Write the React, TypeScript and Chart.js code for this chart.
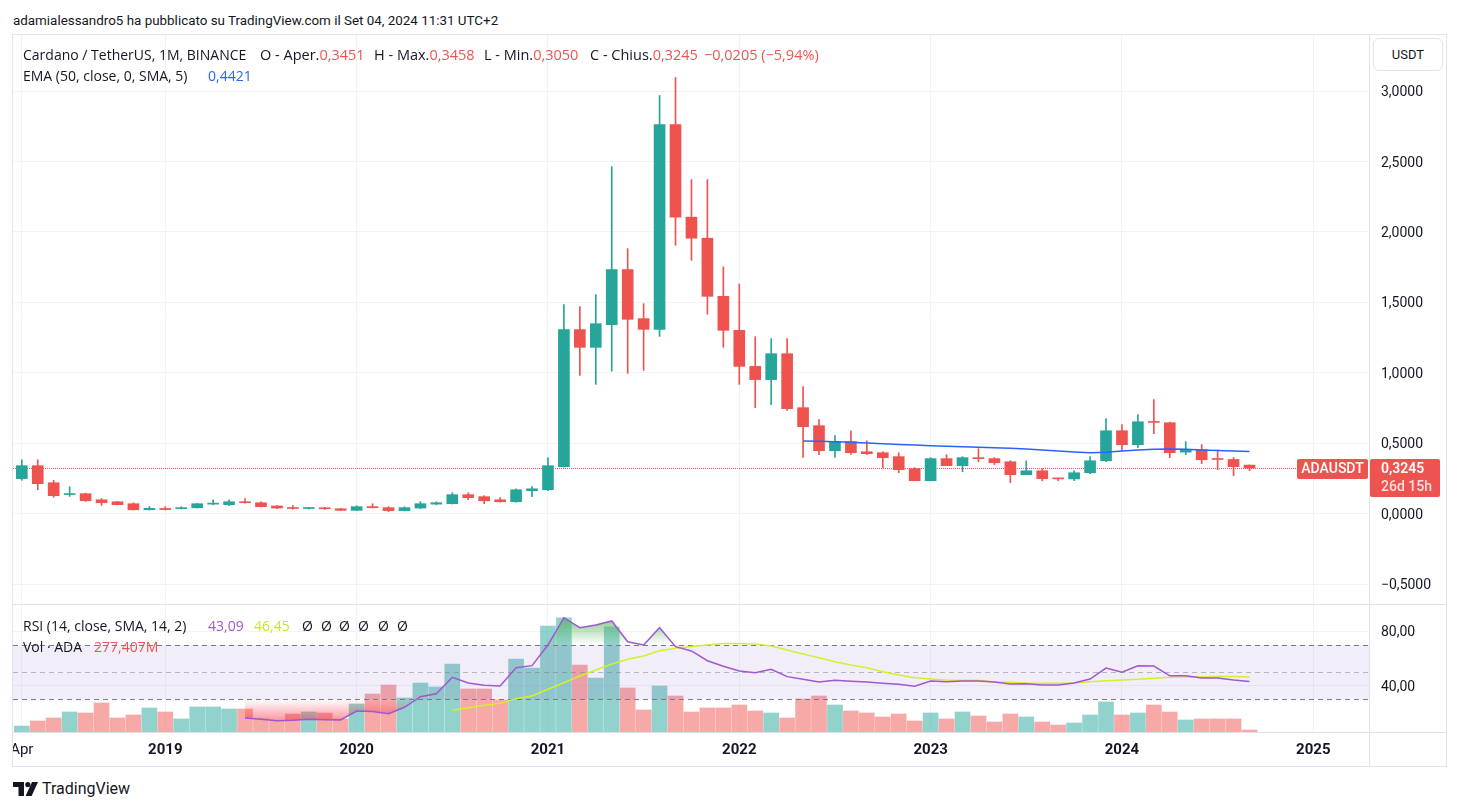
import React, { useEffect, useRef } from 'react';
import { Chart, registerables } from 'chart.js';

Chart.register(...registerables);

// ---------------- data ----------------
const months = [
  '2018-04', '2018-05', '2018-06', '2018-07', '2018-08', '2018-09', '2018-10', '2018-11', '2018-12',
  '2019-01', '2019-02', '2019-03', '2019-04', '2019-05', '2019-06', '2019-07', '2019-08', '2019-09', '2019-10', '2019-11', '2019-12',
  '2020-01', '2020-02', '2020-03', '2020-04', '2020-05', '2020-06', '2020-07', '2020-08', '2020-09', '2020-10', '2020-11', '2020-12',
  '2021-01', '2021-02', '2021-03', '2021-04', '2021-05', '2021-06', '2021-07', '2021-08', '2021-09', '2021-10', '2021-11', '2021-12',
  '2022-01', '2022-02', '2022-03', '2022-04', '2022-05', '2022-06', '2022-07', '2022-08', '2022-09', '2022-10', '2022-11', '2022-12',
  '2023-01', '2023-02', '2023-03', '2023-04', '2023-05', '2023-06', '2023-07', '2023-08', '2023-09', '2023-10', '2023-11', '2023-12',
  '2024-01', '2024-02', '2024-03', '2024-04', '2024-05', '2024-06', '2024-07', '2024-08', '2024-09',
];

const opens = [
  0.249, 0.341, 0.220, 0.136, 0.142, 0.099, 0.085, 0.071, 0.028,
  0.037, 0.036, 0.042, 0.068, 0.064, 0.085, 0.078, 0.055, 0.043, 0.037, 0.042, 0.035,
  0.024, 0.050, 0.043, 0.022, 0.040, 0.068, 0.071, 0.135, 0.121, 0.099, 0.085, 0.163,
  0.170, 0.334, 1.307, 1.181, 1.342, 1.733, 1.385, 1.309, 2.763, 2.105, 1.956, 1.543,
  1.302, 1.046, 0.952, 1.136, 0.753, 0.625, 0.447, 0.512, 0.440, 0.433, 0.405, 0.320,
  0.234, 0.391, 0.341, 0.398, 0.391, 0.369, 0.277, 0.305, 0.251, 0.247, 0.291, 0.376,
  0.589, 0.490, 0.653, 0.646, 0.437, 0.454, 0.390, 0.385, 0.3451,
];
const highs = [
  0.383, 0.383, 0.237, 0.192, 0.146, 0.107, 0.087, 0.078, 0.052,
  0.050, 0.050, 0.074, 0.099, 0.099, 0.107, 0.085, 0.058, 0.057, 0.045, 0.046, 0.039,
  0.057, 0.071, 0.050, 0.050, 0.085, 0.085, 0.149, 0.149, 0.128, 0.114, 0.177, 0.192,
  0.398, 1.484, 1.470, 1.555, 2.464, 1.882, 1.491, 2.969, 3.097, 2.372, 2.372, 1.752,
  1.631, 1.257, 1.243, 1.243, 0.902, 0.668, 0.554, 0.589, 0.518, 0.440, 0.433, 0.327,
  0.398, 0.419, 0.405, 0.462, 0.398, 0.376, 0.376, 0.320, 0.252, 0.305, 0.405, 0.675,
  0.632, 0.703, 0.810, 0.650, 0.512, 0.490, 0.452, 0.398, 0.3458,
];
const lows = [
  0.237, 0.170, 0.116, 0.123, 0.087, 0.059, 0.062, 0.026, 0.026,
  0.027, 0.034, 0.040, 0.064, 0.057, 0.075, 0.048, 0.036, 0.033, 0.033, 0.030, 0.022,
  0.022, 0.040, 0.014, 0.020, 0.036, 0.064, 0.069, 0.099, 0.071, 0.082, 0.082, 0.121,
  0.163, 0.330, 0.982, 0.918, 1.011, 0.997, 1.018, 1.259, 1.906, 1.799, 1.416, 1.181,
  0.918, 0.753, 0.774, 0.734, 0.400, 0.419, 0.400, 0.421, 0.419, 0.327, 0.291, 0.234,
  0.234, 0.341, 0.298, 0.369, 0.348, 0.220, 0.277, 0.234, 0.234, 0.234, 0.284, 0.369,
  0.447, 0.469, 0.568, 0.398, 0.419, 0.355, 0.3125, 0.270, 0.3050,
];
const closes = [
  0.341, 0.213, 0.128, 0.142, 0.092, 0.078, 0.064, 0.028, 0.038,
  0.029, 0.043, 0.071, 0.071, 0.085, 0.078, 0.050, 0.040, 0.037, 0.042, 0.035, 0.024,
  0.050, 0.043, 0.022, 0.043, 0.071, 0.078, 0.135, 0.114, 0.092, 0.085, 0.170, 0.177,
  0.341, 1.307, 1.181, 1.349, 1.733, 1.380, 1.309, 2.763, 2.105, 1.956, 1.543, 1.302,
  1.046, 0.952, 1.136, 0.746, 0.618, 0.447, 0.514, 0.433, 0.426, 0.398, 0.3125, 0.234,
  0.391, 0.341, 0.398, 0.391, 0.362, 0.277, 0.305, 0.249, 0.247, 0.291, 0.376, 0.589,
  0.490, 0.653, 0.648, 0.433, 0.454, 0.383, 0.385, 0.334, 0.3245,
];
// monthly volume, millions of ADA
const volumes = [
  830, 1530, 1950, 2780, 2640, 4030, 1950, 2360, 3340,
  2780, 1810, 3480, 3480, 3200, 3200, 1810, 1530, 2500, 2780, 2640, 1810,
  3890, 5280, 6530, 4730, 6810, 6260, 9450, 5980, 5980, 4450, 10150, 8900,
  14730, 15850, 9310, 7510, 14600, 6120, 3060, 6390, 5000, 2780, 3340, 3340,
  3750, 2920, 2640, 1950, 4590, 5000, 3750, 2920, 2640, 2090, 2500, 1530,
  2640, 1810, 2780, 2220, 1390, 2500, 2090, 1390, 970, 1250, 2360, 4170,
  2360, 2640, 3750, 2780, 1670, 1810, 1810, 1810, 277.407,
];

const emaStartMonth = '2022-05';
const emaValues = [
  0.516, 0.514, 0.511, 0.507, 0.502, 0.497, 0.492, 0.487, 0.483, 0.479,
  0.475, 0.471, 0.468, 0.464, 0.459, 0.452, 0.445, 0.438, 0.433, 0.436,
  0.445, 0.453, 0.458, 0.459, 0.457, 0.453, 0.449, 0.446, 0.4421,
];

const rsiStartMonth = '2019-06';
const rsiValues = [
  16.2, 15.3, 14.2, 14.5, 15.3, 15.0, 14.8, 21.4, 21.1, 19.4,
  24.1, 31.9, 34.1, 46.2, 42.0, 40.3, 39.8, 53.3, 54.8, 70.0,
  90.1, 82.7, 84.7, 87.7, 72.4, 70.0, 82.7, 68.8, 65.6, 58.4,
  54.3, 50.8, 49.6, 52.1, 46.7, 44.7, 42.8, 44.0, 43.3, 42.8,
  41.8, 41.0, 39.6, 43.5, 43.0, 43.5, 43.5, 42.8, 41.3, 41.5,
  40.5, 40.5, 42.0, 44.9, 53.0, 50.0, 54.7, 54.5, 47.3, 47.3,
  45.6, 45.6, 44.2, 43.09,
];

const rsiMaStartMonth = '2020-07';
const rsiMaValues = [
  21.9, 23.8, 25.6, 27.0, 30.5, 32.4, 37.4, 42.2, 47.2, 51.6,
  56.0, 59.5, 61.9, 65.8, 67.6, 68.8, 70.0, 71.0, 71.0, 70.7,
  69.2, 66.3, 63.4, 60.6, 57.7, 55.3, 53.3, 50.3, 47.9, 45.9,
  45.0, 44.2, 44.0, 44.0, 42.8, 42.5, 42.0, 41.8, 41.8, 42.0,
  43.0, 43.7, 44.2, 44.7, 45.5, 46.2, 46.5, 46.5, 46.7, 46.7,
  46.45,
];

const timeTickMonths = ['2018-04', '2019-01', '2020-01', '2021-01', '2022-01', '2023-01', '2024-01', '2025-01'];
const timeTickLabels = ['Apr', '2019', '2020', '2021', '2022', '2023', '2024', '2025'];
const priceTicks = [-0.5, 0, 0.5, 1, 1.5, 2, 2.5, 3];
const rsiTicks = [40, 80];
const rsiLevels = [30, 50, 70];

const SYMBOL = 'ADAUSDT';
const COUNTDOWN = '26d 15h';

// ---------------- styles ----------------
const FONT = 'Roboto, "Noto Sans", "DejaVu Sans", sans-serif';
const LEGEND_FONT = '"Open Sans", Roboto, sans-serif';
const TEXT = '#131722';
const UP = '#26a69a';
const DOWN = '#ef5350';
const GRID = '#f0f3fa';
const BORDER = '#e0e3eb';
const EMA_COLOR = '#2962ff';
const RSI_COLOR = '#a057d2';
const MA_COLOR = '#d4f028';

// visible ranges (matching the pane geometry)
const X_MIN = -0.552;
const X_MAX = 84.494;
const Y_MIN = -0.641;
const Y_MAX = 3.3984;
const RSI_MIN = 5.92;
const RSI_MAX = 99.44;
const VOL_MAX = 17650;

const monthIndex = (m: string) => {
  const [y, mo] = m.split('-').map(Number);
  return (y - 2018) * 12 + (mo - 4);
};
const fmtPrice = (v: number) => (v < 0 ? '\u2212' : '') + Math.abs(v).toFixed(4).replace('.', ',');
const fmtRsi = (v: number) => v.toFixed(2).replace('.', ',');

export default function App() {
  const mainRef = useRef<HTMLCanvasElement>(null);
  const rsiRef = useRef<HTMLCanvasElement>(null);

  useEffect(() => {
    const xs = months.map(monthIndex);
    const candleColors = months.map((_, i) => (closes[i] >= opens[i] ? UP : DOWN));
    const volColors = months.map((_, i) =>
      closes[i] >= opens[i] ? 'rgba(38,166,154,0.5)' : 'rgba(239,83,80,0.5)'
    );
    const tickPositions = timeTickMonths.map(monthIndex);
    const lastClose = closes[closes.length - 1];

    const emaStart = monthIndex(emaStartMonth);
    const rsiStart = monthIndex(rsiStartMonth);
    const maStart = monthIndex(rsiMaStartMonth);
    const rsiPts = rsiValues.map((v, k) => ({ x: rsiStart + k, y: v }));
    const maPts = rsiMaValues.map((v, k) => ({ x: maStart + k, y: v }));

    const priceLinePlugin = {
      id: 'priceLine',
      beforeDatasetsDraw(chart: any) {
        const { ctx, chartArea } = chart;
        const y = Math.round(chart.scales.y.getPixelForValue(lastClose)) + 0.5;
        ctx.save();
        ctx.strokeStyle = DOWN;
        ctx.lineWidth = 1;
        ctx.setLineDash([1, 1]);
        ctx.beginPath();
        ctx.moveTo(chartArea.left, y);
        ctx.lineTo(chartArea.right - 72, y);
        ctx.stroke();
        ctx.restore();
      },
      afterDraw(chart: any) {
        const { ctx, chartArea } = chart;
        const y = Math.round(chart.scales.y.getPixelForValue(lastClose));
        ctx.save();
        ctx.fillStyle = DOWN;
        ctx.beginPath();
        ctx.roundRect(chartArea.right - 72, y - 9, 71, 20, 2);
        ctx.fill();
        ctx.beginPath();
        ctx.roundRect(chartArea.right + 1, y - 9, 70, 38, 2);
        ctx.fill();
        ctx.fillStyle = '#ffffff';
        ctx.textBaseline = 'middle';
        ctx.textAlign = 'center';
        ctx.font = `500 14px ${FONT}`;
        ctx.fillText(SYMBOL, chartArea.right - 36.5, y + 1.5);
        ctx.textAlign = 'left';
        ctx.font = `600 14px ${FONT}`;
        ctx.fillText(fmtPrice(lastClose), chartArea.right + 12, y + 1.5);
        ctx.fillStyle = 'rgba(255,255,255,0.82)';
        ctx.font = `500 14px ${FONT}`;
        ctx.fillText(COUNTDOWN, chartArea.right + 12, y + 19.5);
        ctx.restore();
      },
    };

    const main = new Chart(mainRef.current as HTMLCanvasElement, {
      type: 'line',
      data: {
        datasets: [
          {
            type: 'line',
            label: 'EMA',
            data: emaValues.map((v, k) => ({ x: emaStart + k, y: v })),
            borderColor: EMA_COLOR,
            borderWidth: 1.5,
            pointRadius: 0,
            fill: false,
            order: 1,
          },
          {
            type: 'bar',
            label: 'Body',
            data: xs.map((x, i) => ({ x, y: [opens[i], closes[i]] })),
            backgroundColor: candleColors,
            borderWidth: 0,
            barThickness: 11,
            maxBarThickness: 11,
            minBarLength: 1,
            grouped: false,
            order: 2,
          },
          {
            type: 'bar',
            label: 'Wick',
            data: xs.map((x, i) => ({ x, y: [lows[i], highs[i]] })),
            backgroundColor: candleColors,
            borderWidth: 0,
            barThickness: 1,
            maxBarThickness: 1,
            grouped: false,
            order: 3,
          },
        ],
      } as any,
      options: {
        responsive: false,
        animation: false,
        devicePixelRatio: 1,
        events: [],
        layout: { padding: { left: 1, right: 0, top: 1, bottom: 1 } },
        plugins: { legend: { display: false }, tooltip: { enabled: false } },
        scales: {
          x: {
            type: 'linear',
            min: X_MIN,
            max: X_MAX,
            offset: false,
            grid: { color: GRID, drawTicks: false, offset: false },
            border: { display: false },
            ticks: { display: false },
            afterBuildTicks: (s: any) => {
              s.ticks = tickPositions.map((v) => ({ value: v }));
            },
            afterFit: (s: any) => {
              s.height = 0;
              s.paddingLeft = 0;
              s.paddingRight = 0;
            },
          },
          y: {
            type: 'linear',
            position: 'right',
            min: Y_MIN,
            max: Y_MAX,
            grid: { color: GRID, drawTicks: false },
            border: { display: false },
            ticks: {
              color: TEXT,
              padding: 12,
              labelOffset: 1.5,
              font: { family: FONT, size: 14 },
              callback: (v: any) => fmtPrice(Number(v)),
            },
            afterBuildTicks: (s: any) => {
              s.ticks = priceTicks.map((v) => ({ value: v }));
            },
            afterFit: (s: any) => {
              s.width = 78;
              s.paddingTop = 0;
              s.paddingBottom = 0;
            },
          },
        },
      } as any,
      plugins: [priceLinePlugin],
    });

    const bandPlugin = {
      id: 'rsiBand',
      afterDatasetDraw(chart: any, args: any) {
        if (args.index !== 0) return;
        const { ctx, chartArea } = chart;
        const s = chart.scales.rsi;
        const yTop = s.getPixelForValue(rsiLevels[2]);
        const yMid = s.getPixelForValue(rsiLevels[1]);
        const yBot = s.getPixelForValue(rsiLevels[0]);
        ctx.save();
        ctx.fillStyle = 'rgba(126,87,194,0.1)';
        ctx.fillRect(chartArea.left, yTop, chartArea.right - chartArea.left, yBot - yTop);
        ctx.lineWidth = 1;
        ctx.setLineDash([5, 4]);
        ctx.strokeStyle = '#787b86';
        [yTop, yBot].forEach((y) => {
          const yy = Math.round(y) + 0.5;
          ctx.beginPath();
          ctx.moveTo(chartArea.left, yy);
          ctx.lineTo(chartArea.right, yy);
          ctx.stroke();
        });
        ctx.strokeStyle = 'rgba(120,123,134,0.5)';
        const ym = Math.round(yMid) + 0.5;
        ctx.beginPath();
        ctx.moveTo(chartArea.left, ym);
        ctx.lineTo(chartArea.right, ym);
        ctx.stroke();
        ctx.restore();
      },
    };

    const obGradient = (c: any) => {
      const chart = c.chart;
      const s = chart.scales && chart.scales.rsi;
      if (!s || !chart.chartArea) return 'transparent';
      const g = chart.ctx.createLinearGradient(0, s.getPixelForValue(100), 0, s.getPixelForValue(70));
      g.addColorStop(0, 'rgba(76,175,80,1)');
      g.addColorStop(1, 'rgba(76,175,80,0)');
      return g;
    };
    const osGradient = (c: any) => {
      const chart = c.chart;
      const s = chart.scales && chart.scales.rsi;
      if (!s || !chart.chartArea) return 'transparent';
      const g = chart.ctx.createLinearGradient(0, s.getPixelForValue(30), 0, s.getPixelForValue(0));
      g.addColorStop(0, 'rgba(242,54,69,0)');
      g.addColorStop(1, 'rgba(242,54,69,1)');
      return g;
    };

    const rsi = new Chart(rsiRef.current as HTMLCanvasElement, {
      type: 'line',
      data: {
        datasets: [
          {
            type: 'bar',
            label: 'Vol',
            yAxisID: 'vol',
            data: xs.map((x, i) => ({ x, y: volumes[i] })),
            backgroundColor: volColors,
            borderWidth: 0,
            barThickness: 15,
            maxBarThickness: 15,
            grouped: false,
            order: 10,
          },
          {
            type: 'line',
            label: 'Overbought fill',
            yAxisID: 'rsi',
            data: rsiPts,
            borderColor: 'transparent',
            borderWidth: 0,
            pointRadius: 0,
            backgroundColor: obGradient,
            fill: { target: { value: 70 }, below: 'transparent' },
            order: 6,
          },
          {
            type: 'line',
            label: 'Oversold fill',
            yAxisID: 'rsi',
            data: rsiPts,
            borderColor: 'transparent',
            borderWidth: 0,
            pointRadius: 0,
            backgroundColor: osGradient,
            fill: { target: { value: 30 }, above: 'transparent' },
            order: 5,
          },
          {
            type: 'line',
            label: 'RSI MA',
            yAxisID: 'rsi',
            data: maPts,
            borderColor: MA_COLOR,
            borderWidth: 1.5,
            pointRadius: 0,
            fill: false,
            order: 2,
          },
          {
            type: 'line',
            label: 'RSI',
            yAxisID: 'rsi',
            data: rsiPts,
            borderColor: RSI_COLOR,
            borderWidth: 1.5,
            pointRadius: 0,
            fill: false,
            order: 1,
          },
        ],
      } as any,
      options: {
        responsive: false,
        animation: false,
        devicePixelRatio: 1,
        events: [],
        layout: { padding: { left: 1, right: 0, top: 0, bottom: 0 } },
        plugins: { legend: { display: false }, tooltip: { enabled: false } },
        scales: {
          x: {
            type: 'linear',
            min: X_MIN,
            max: X_MAX,
            offset: false,
            grid: { color: GRID, drawTicks: false, offset: false },
            border: { display: false },
            ticks: {
              color: TEXT,
              padding: 9,
              autoSkip: false,
              maxRotation: 0,
              minRotation: 0,
              font: (c: any) => ({
                family: FONT,
                size: 15,
                weight: c.index === 0 ? 'normal' : 'bold',
              }),
              callback: (v: any) => {
                const k = tickPositions.indexOf(Number(v));
                return k >= 0 ? timeTickLabels[k] : '';
              },
            },
            afterBuildTicks: (s: any) => {
              s.ticks = tickPositions.map((v) => ({ value: v }));
            },
            afterFit: (s: any) => {
              s.height = 35;
              s.paddingLeft = 0;
              s.paddingRight = 0;
            },
          },
          rsi: {
            type: 'linear',
            position: 'right',
            min: RSI_MIN,
            max: RSI_MAX,
            grid: { color: GRID, drawTicks: false },
            border: { display: false },
            ticks: {
              color: TEXT,
              padding: 12,
              labelOffset: 1.5,
              font: { family: FONT, size: 14 },
              callback: (v: any) => fmtRsi(Number(v)),
            },
            afterBuildTicks: (s: any) => {
              s.ticks = rsiTicks.map((v) => ({ value: v }));
            },
            afterFit: (s: any) => {
              s.width = 78;
              s.paddingTop = 0;
              s.paddingBottom = 0;
            },
          },
          vol: {
            type: 'linear',
            display: false,
            min: 0,
            max: VOL_MAX,
          },
        },
      } as any,
      plugins: [bandPlugin],
    });

    return () => {
      main.destroy();
      rsi.destroy();
    };
  }, []);

  const abs = (left: number, top: number, extra: any = {}) => ({
    position: 'absolute' as const,
    left,
    top,
    whiteSpace: 'pre' as const,
    ...extra,
  });

  const legendStyle = { fontSize: 14, lineHeight: '17px', color: TEXT, fontFamily: LEGEND_FONT };
  const legendTop = { ...legendStyle, fontSize: 14.5 };

  return (
    <div
      style={{
        position: 'absolute',
        left: 0,
        top: 0,
        width: 1459,
        height: 811,
        background: '#ffffff',
        overflow: 'hidden',
        fontFamily: FONT,
        color: TEXT,
      }}
    >
      <div style={abs(13, 12, { fontSize: 13.4, lineHeight: '17px' })}>
        adamialessandro5 ha pubblicato su TradingView.com il Set 04, 2024 11:31 UTC+2
      </div>

      <canvas
        ref={mainRef}
        width={1435}
        height={571}
        style={{ position: 'absolute', left: 12, top: 34, width: 1435, height: 571 }}
      />
      <canvas
        ref={rsiRef}
        width={1435}
        height={162}
        style={{ position: 'absolute', left: 12, top: 605, width: 1435, height: 162 }}
      />

      {/* frame and pane separators */}
      <div
        style={{
          position: 'absolute',
          left: 12,
          top: 34,
          width: 1435,
          height: 733,
          border: `1px solid ${BORDER}`,
          boxSizing: 'border-box',
          pointerEvents: 'none',
        }}
      />
      <div style={{ position: 'absolute', left: 12, top: 604, width: 1435, height: 1, background: BORDER }} />
      <div style={{ position: 'absolute', left: 12, top: 732, width: 1435, height: 1, background: BORDER }} />
      <div style={{ position: 'absolute', left: 1369, top: 34, width: 1, height: 733, background: BORDER }} />

      {/* main legend */}
      <div style={abs(23, 46, legendStyle)}>Cardano / TetherUS, 1M, BINANCE</div>
      <div style={abs(260, 46, legendTop)}>
        O - Aper.<span style={{ color: DOWN }}>0,3451</span>
      </div>
      <div style={abs(374, 46, legendTop)}>
        H - Max.<span style={{ color: DOWN }}>0,3458</span>
      </div>
      <div style={abs(484, 46, legendTop)}>
        L - Min.<span style={{ color: DOWN }}>0,3050</span>
      </div>
      <div style={abs(590, 46, legendTop)}>
        C - Chius.<span style={{ color: DOWN }}>0,3245</span>
      </div>
      <div style={abs(704, 46, { ...legendTop, color: DOWN })}>{'\u22120,0205 (\u22125,94%)'}</div>

      <div style={abs(23, 67, legendStyle)}>EMA (50, close, 0, SMA, 5)</div>
      <div style={abs(208, 67, { ...legendStyle, color: EMA_COLOR })}>0,4421</div>

      {/* RSI legend */}
      <div style={abs(23, 617, legendStyle)}>RSI (14, close, SMA, 14, 2)</div>
      <div style={abs(208, 617, { ...legendStyle, color: RSI_COLOR })}>43,09</div>
      <div style={abs(254, 617, { ...legendStyle, color: '#c8e628' })}>46,45</div>
      {[302, 321, 339, 358, 378, 397].map((l) => (
        <div key={l} style={abs(l, 617, legendStyle)}>Ø</div>
      ))}
      <div style={abs(23, 638, legendStyle)}>Vol · ADA</div>
      <div style={abs(94, 638, { ...legendStyle, color: DOWN })}>277,407M</div>

      {/* currency button */}
      <div
        style={{
          position: 'absolute',
          left: 1373,
          top: 38,
          width: 70,
          height: 33,
          border: `1px solid ${BORDER}`,
          borderRadius: 6,
          boxSizing: 'border-box',
          fontSize: 13,
          lineHeight: '31px',
          textAlign: 'center',
          background: '#fff',
        }}
      >
        USDT
      </div>

      {/* footer */}
      <svg style={{ position: 'absolute', left: 13, top: 782 }} width={25} height={14} viewBox="0 0 25 14">
        <path d="M0 0 H11 V14 H5.5 V5 H0 Z" fill={TEXT} />
        <circle cx={14.8} cy={2.6} r={2.6} fill={TEXT} />
        <path d="M19 0 H25 L18.6 14 H12.6 Z" fill={TEXT} />
      </svg>
      <div style={abs(42, 780, { fontSize: 16, lineHeight: '18px' })}>TradingView</div>
    </div>
  );
}
